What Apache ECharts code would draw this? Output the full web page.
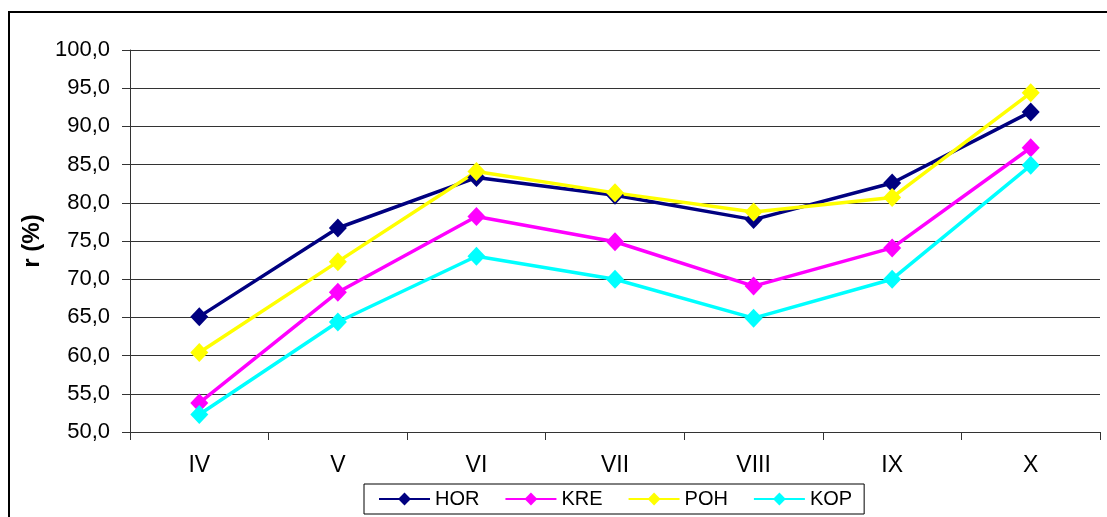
<!DOCTYPE html>
<html>
<head>
<meta charset="utf-8">
<script src="https://cdn.jsdelivr.net/npm/echarts@6/dist/echarts.min.js"></script>
<style>
  html, body { margin: 0; padding: 0; background: #fff; }
  #chart { width: 1107px; height: 517px; }
</style>
</head>
<body>
<div id="chart"></div>
<script>
// Months (Roman numerals) and monthly r (%) per site
const categories = ['IV', 'V', 'VI', 'VII', 'VIII', 'IX', 'X'];
const HOR = [65.1, 76.7, 83.3, 81.0, 77.8, 82.6, 91.9];
const KRE = [53.8, 68.3, 78.2, 74.9, 69.1, 74.1, 87.2];
const POH = [60.4, 72.3, 84.1, 81.3, 78.8, 80.7, 94.4];
const KOP = [52.3, 64.4, 73.0, 70.0, 64.9, 70.0, 84.9];
const yMin = 50, yMax = 100, yStep = 5;

const FONT = '"Liberation Sans", Arial, sans-serif';

function makeSeries(name, data, color) {
  return {
    name: name,
    type: 'line',
    data: data,
    symbol: 'diamond',
    symbolSize: [18, 19],
    showSymbol: true,
    animation: false,
    itemStyle: { color: color },
    lineStyle: { color: color, width: 3.5 },
    emphasis: { disabled: true }
  };
}

const chart = echarts.init(document.getElementById('chart'), null, { renderer: 'canvas' });
chart.setOption({
  backgroundColor: '#fff',
  animation: false,
  textStyle: { fontFamily: FONT },
  grid: { left: 130, right: 7, top: 50, bottom: 85, containLabel: false },
  xAxis: {
    type: 'category',
    data: categories,
    boundaryGap: true,
    axisLine: { show: true, lineStyle: { color: '#333', width: 1 } },
    axisTick: { show: true, alignWithLabel: false, length: 8, inside: false, lineStyle: { color: '#333' } },
    axisLabel: { color: '#000', fontSize: 23, fontFamily: FONT, margin: 22 },
    splitLine: { show: false }
  },
  yAxis: {
    type: 'value',
    min: yMin,
    max: yMax,
    interval: yStep,
    name: 'r (%)',
    nameLocation: 'middle',
    nameRotate: 90,
    nameGap: 80,
    nameTextStyle: { color: '#000', fontSize: 24, fontWeight: 'bold', fontFamily: FONT },
    axisLine: { show: true, lineStyle: { color: '#333', width: 1 } },
    axisTick: { show: true, length: 8, inside: false, lineStyle: { color: '#333' } },
    axisLabel: {
      color: '#000', fontSize: 22, fontFamily: FONT, margin: 20,
      padding: [5, 0, 0, 0],
      formatter: v => v.toFixed(1).replace('.', ',')
    },
    splitLine: { show: true, lineStyle: { color: '#333', width: 1 } }
  },
  legend: {
    data: ['HOR', 'KRE', 'POH', 'KOP'],
    left: 364,
    top: 484,
    orient: 'horizontal',
    itemWidth: 51,
    itemHeight: 16,
    itemGap: 25,
    padding: [5, 12, 5, 14],
    borderColor: '#000',
    borderWidth: 1,
    textStyle: { color: '#000', fontSize: 20, fontFamily: FONT },
    selectedMode: false
  },
  graphic: [
    {
      type: 'rect',
      shape: { x: 9, y: 12, width: 1200, height: 600 },
      style: { fill: 'none', stroke: '#000', lineWidth: 2 },
      silent: true
    }
  ],
  series: [
    makeSeries('HOR', HOR, '#000080'),
    makeSeries('KRE', KRE, '#FF00FF'),
    makeSeries('POH', POH, '#FFFF00'),
    makeSeries('KOP', KOP, '#00FFFF')
  ]
});
</script>
</body>
</html>
